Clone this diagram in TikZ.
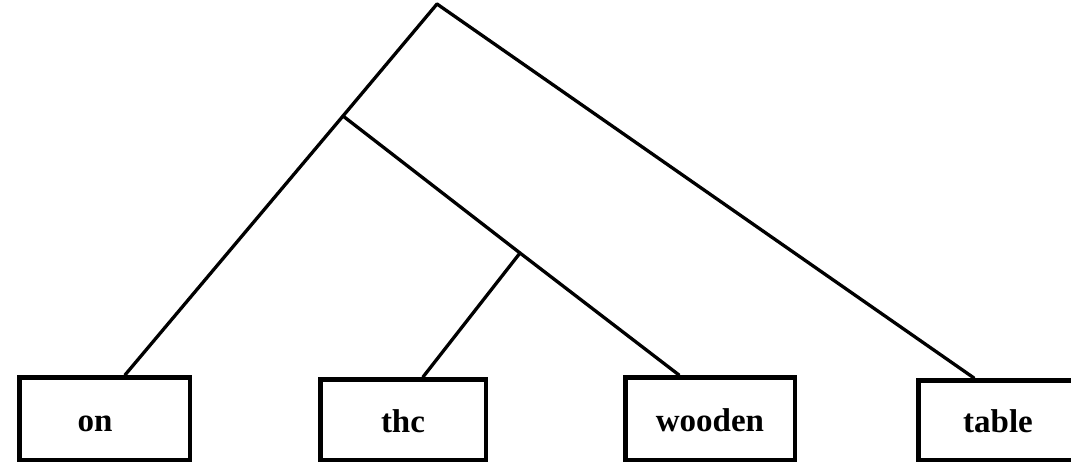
\documentclass[tikz,border=0pt]{standalone}
\usepackage{fontspec}
\setmainfont{Liberation Serif}
\begin{document}
\begin{tikzpicture}[x=1pt,y=-1pt,
  wordbox/.style={draw, line width=4.5pt, rectangle, inner sep=0pt,
    text height=25pt, text depth=0pt,
    font=\fontsize{33}{33}\selectfont\bfseries},
  branch/.style={line width=3.3pt, line cap=round, line join=round}]
  \useasboundingbox (0,0) rectangle (1071,468);
  % word boxes
  \node[wordbox, minimum width=170.5pt, minimum height=82.5pt] (on) at (104.5,418.5) {on\kern19pt};
  \node[wordbox, minimum width=165.5pt, minimum height=80.5pt] (the) at (403,419.5) {thc};
  \node[wordbox, minimum width=169.5pt, minimum height=82.5pt] (wooden) at (710,418.5) {wooden};
  \node[wordbox, minimum width=159.5pt, minimum height=79.5pt] (table) at (998,420) {table};
  % branching points
  \coordinate (root) at (437,4);
  \coordinate (mid) at (343,116);
  \coordinate (low) at (520,253);
  % tree branches
  \draw[branch] (root) -- (mid) -- ([xshift=108pt]on.north west);
  \draw[branch] (root) -- ([xshift=58pt]table.north west);
  \draw[branch] (mid) -- (low) -- ([xshift=56pt]wooden.north west);
  \draw[branch] (low) -- ([xshift=105pt]the.north west);
\end{tikzpicture}
\end{document}
